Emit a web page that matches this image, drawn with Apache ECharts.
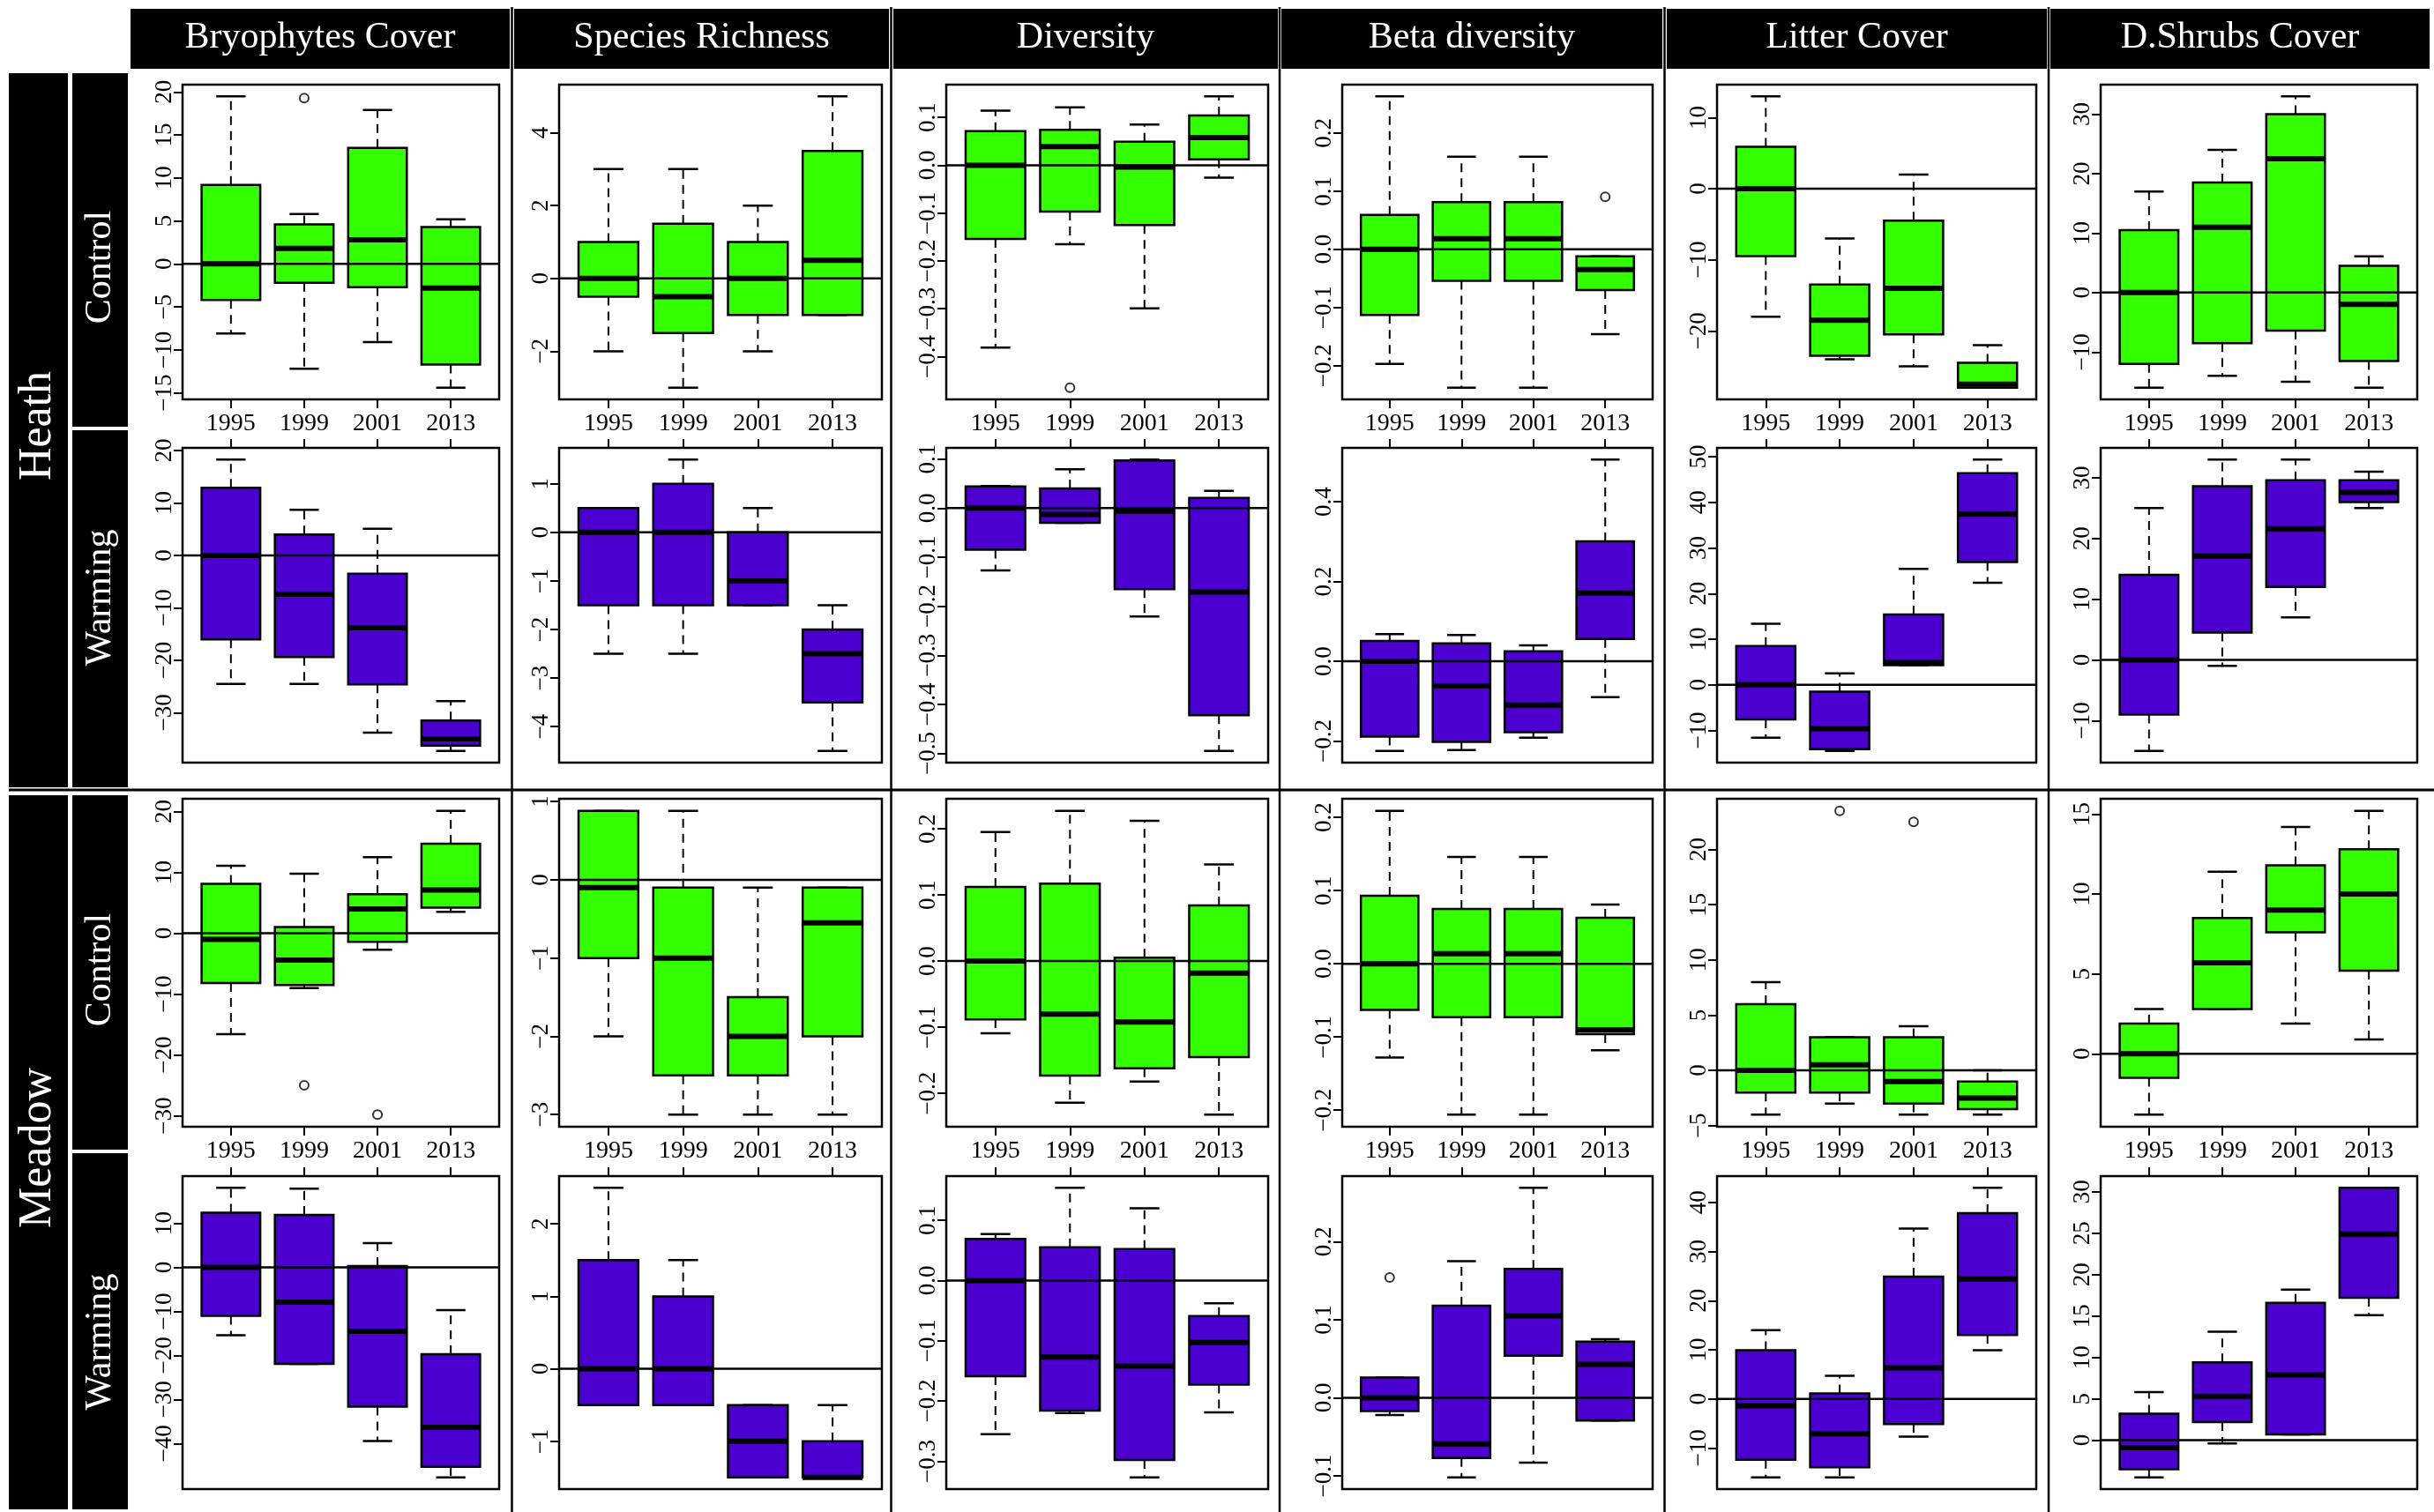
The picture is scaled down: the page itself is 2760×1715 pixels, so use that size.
<!DOCTYPE html>
<html>
<head>
<meta charset="utf-8">
<script src="https://cdn.jsdelivr.net/npm/echarts@6/dist/echarts.min.js"></script>
<style>
  html, body { margin: 0; padding: 0; background: #ffffff; }
  #chart { width: 2760px; height: 1715px; }
</style>
</head>
<body>
<div id="chart"></div>
<script>
// ---- data -------------------------------------------------------------
const years = ['1995', '1999', '2001', '2013'];
const variables = ['Bryophytes Cover', 'Species Richness', 'Diversity', 'Beta diversity', 'Litter Cover', 'D.Shrubs Cover'];
const habitats = ['Heath', 'Meadow'];
const treatments = ['Control', 'Warming'];
const decimals = [0, 0, 1, 1, 0, 0];

// per variable, per year: [lower whisker, Q1, median, Q3, upper whisker]
const heathControl = [
  [[-8.1, -4.2, 0, 9.2, 19.5], [-12.2, -2.2, 1.8, 4.6, 5.8], [-9.1, -2.7, 2.8, 13.5, 17.9], [-14.4, -11.7, -2.8, 4.3, 5.2]],
  [[-2, -0.5, 0, 1, 3], [-3, -1.5, -0.5, 1.5, 3], [-2, -1, 0, 1, 2], [-1, -1, 0.5, 3.5, 5]],
  [[-0.381, -0.154, 0, 0.071, 0.114], [-0.165, -0.097, 0.039, 0.074, 0.121], [-0.299, -0.125, -0.004, 0.049, 0.085], [-0.026, 0.012, 0.058, 0.104, 0.144]],
  [[-0.197, -0.113, 0, 0.059, 0.263], [-0.238, -0.054, 0.018, 0.081, 0.159], [-0.238, -0.054, 0.018, 0.081, 0.159], [-0.146, -0.070, -0.035, -0.012, -0.012]],
  [[-18, -9.5, 0, 5.9, 13], [-24, -23.5, -18.5, -13.5, -7], [-25, -20.5, -14, -4.5, 2], [-28, -28, -27.5, -24.5, -22]],
  [[-16, -12, 0, 10.5, 17], [-14, -8.5, 11, 18.5, 24], [-15, -6.4, 22.5, 30, 33], [-16, -11.5, -2, 4.5, 6.1]]
];
const heathWarming = [
  [[-24.5, -16, 0, 12.9, 18.3], [-24.5, -19.4, -7.4, 4, 8.7], [-33.8, -24.6, -13.8, -3.5, 5.1], [-37.3, -36.3, -35, -31.5, -27.8]],
  [[-2.5, -1.5, 0, 0.5, 0.5], [-2.5, -1.5, 0, 1, 1.5], [-1.5, -1.5, -1, 0, 0.5], [-4.5, -3.5, -2.5, -2, -1.5]],
  [[-0.127, -0.085, 0, 0.044, 0.045], [-0.030, -0.030, -0.013, 0.040, 0.079], [-0.221, -0.165, -0.006, 0.097, 0.099], [-0.495, -0.422, -0.171, 0.021, 0.035]],
  [[-0.225, -0.189, 0, 0.051, 0.068], [-0.223, -0.202, -0.062, 0.045, 0.066], [-0.192, -0.178, -0.110, 0.025, 0.040], [-0.090, 0.056, 0.171, 0.301, 0.506]],
  [[-11.6, -7.6, 0, 8.5, 13.4], [-14.5, -14.1, -9.6, -1.5, 2.5], [4.3, 4.3, 4.9, 15.4, 25.4], [22.4, 26.9, 37.4, 46.4, 49.4]],
  [[-15, -9, 0, 14, 25], [-1, 4.5, 17.1, 28.6, 33], [7, 12, 21.6, 29.6, 33], [25, 26, 27.6, 29.6, 31]]
];
const meadowControl = [
  [[-16.6, -8.2, -1.0, 8.1, 11.1], [-9.0, -8.5, -4.4, 1.0, 9.8], [-2.7, -1.4, 4.0, 6.4, 12.5], [3.5, 4.2, 7.1, 14.7, 20.1]],
  [[-2, -1, -0.1, 0.88, 0.88], [-3, -2.5, -1, -0.1, 0.88], [-3, -2.5, -2, -1.5, -0.1], [-3, -2, -0.55, -0.1, -0.1]],
  [[-0.109, -0.088, 0, 0.112, 0.195], [-0.214, -0.173, -0.080, 0.117, 0.227], [-0.182, -0.162, -0.092, 0.005, 0.212], [-0.232, -0.145, -0.018, 0.084, 0.146]],
  [[-0.128, -0.063, 0, 0.093, 0.209], [-0.206, -0.073, 0.014, 0.075, 0.146], [-0.206, -0.073, 0.014, 0.075, 0.146], [-0.118, -0.096, -0.090, 0.063, 0.081]],
  [[-4, -2, 0, 6, 8], [-3, -2, 0.5, 3, 3], [-4, -3, -1, 3, 4], [-4, -3.5, -2.5, -1, 0]],
  [[-3.8, -1.5, 0, 1.9, 2.8], [2.8, 2.8, 5.7, 8.5, 11.4], [1.9, 7.6, 9.0, 11.8, 14.2], [0.9, 5.2, 10.0, 12.8, 15.2]]
];
const meadowWarming = [
  [[-15.4, -11, 0, 12.4, 18.1], [-21.9, -21.9, -7.9, 11.9, 17.9], [-39.4, -31.6, -14.5, 0.3, 5.5], [-47.7, -45.3, -36.3, -19.7, -9.7]],
  [[-0.5, -0.5, 0, 1.5, 2.5], [-0.5, -0.5, 0, 1, 1.5], [-1.5, -1.5, -1, -0.5, -0.5], [-1.5, -1.5, -1.5, -1, -0.5]],
  [[-0.255, -0.159, 0, 0.069, 0.077], [-0.220, -0.216, -0.127, 0.055, 0.154], [-0.327, -0.298, -0.142, 0.052, 0.120], [-0.219, -0.173, -0.103, -0.059, -0.038]],
  [[-0.022, -0.017, 0, 0.026, 0.026], [-0.102, -0.077, -0.059, 0.118, 0.175], [-0.083, 0.054, 0.105, 0.165, 0.269], [-0.029, -0.029, 0.043, 0.072, 0.075]],
  [[-16, -12.4, -1.4, 9.9, 14], [-16, -13.9, -7.1, 1.1, 4.7], [-7.7, -5.1, 6.3, 24.9, 34.7], [9.9, 13, 24.4, 37.8, 43]],
  [[-4.5, -3.5, -0.9, 3.2, 5.8], [-0.4, 2.2, 5.3, 9.4, 13.1], [0.7, 0.7, 7.9, 16.6, 18.2], [15.1, 17.2, 24.9, 30.5, 30.5]]
];

// outlying points per variable: [year index, value]
const heathControlOutliers = [[[1, 19.3]], [], [[1, -0.465]], [[3, 0.090]], [], []];
const heathWarmingOutliers = [[], [], [], [], [], []];
const meadowControlOutliers = [[[1, -25.0], [2, -29.8]], [], [], [], [[1, 23.5], [2, 22.5]], []];
const meadowWarmingOutliers = [[], [], [], [[0, 0.154]], [], []];

// y-axis tick values per variable
const heathControlTicks = [[-15, -10, -5, 0, 5, 10, 15, 20], [-2, 0, 2, 4], [-0.4, -0.3, -0.2, -0.1, 0, 0.1], [-0.2, -0.1, 0, 0.1, 0.2], [-20, -10, 0, 10], [-10, 0, 10, 20, 30]];
const heathWarmingTicks = [[-30, -20, -10, 0, 10, 20], [-4, -3, -2, -1, 0, 1], [-0.5, -0.4, -0.3, -0.2, -0.1, 0, 0.1], [-0.2, 0, 0.2, 0.4], [-10, 0, 10, 20, 30, 40, 50], [-10, 0, 10, 20, 30]];
const meadowControlTicks = [[-30, -20, -10, 0, 10, 20], [-3, -2, -1, 0, 1], [-0.2, -0.1, 0, 0.1, 0.2], [-0.2, -0.1, 0, 0.1, 0.2], [-5, 0, 5, 10, 15, 20], [0, 5, 10, 15]];
const meadowWarmingTicks = [[-40, -30, -20, -10, 0, 10], [-1, 0, 1, 2], [-0.3, -0.2, -0.1, 0, 0.1], [-0.1, 0, 0.1, 0.2], [-10, 0, 10, 20, 30, 40], [0, 5, 10, 15, 20, 25, 30]];

// ---- layout -----------------------------------------------------------
const GREEN = '#33ff00';
const PURPLE = '#4b00cf';
const SERIF = '"Liberation Serif", "Times New Roman", serif';

const COL_L = [207, 634, 1073, 1522, 1947, 2382];
const COL_R = [566, 1000, 1438, 1874, 2309, 2741];
const ROW_T = [96, 508, 906, 1334];
const ROW_B = [453, 865, 1278, 1689];
const HEAD_L = [148, 583, 1013, 1453, 1890, 2325];
const HEAD_R = [578, 1008, 1449, 1885, 2321, 2755];
const DIV_X = [580.5, 1010.5, 1451, 1887.5, 2323];
const X_MIN = 0.34, X_MAX = 4.66;

const rows = [
  { stats: heathControl, outliers: heathControlOutliers, ticks: heathControlTicks, fill: GREEN },
  { stats: heathWarming, outliers: heathWarmingOutliers, ticks: heathWarmingTicks, fill: PURPLE },
  { stats: meadowControl, outliers: meadowControlOutliers, ticks: meadowControlTicks, fill: GREEN },
  { stats: meadowWarming, outliers: meadowWarmingOutliers, ticks: meadowWarmingTicks, fill: PURPLE }
];

function fmt(v, d) {
  const s = Math.abs(v).toFixed(d);
  return (v < -1e-9 ? '\u2212' : '') + s;
}

// box, dashed whiskers, staples and thick median for one year
function drawBox(api, fill) {
  const x = api.value(0);
  const pLo = api.coord([x, api.value(1)]);
  const pQ1 = api.coord([x, api.value(2)]);
  const pMd = api.coord([x, api.value(3)]);
  const pQ3 = api.coord([x, api.value(4)]);
  const pHi = api.coord([x, api.value(5)]);
  const cx = pMd[0];
  const bw = api.size([0.8, 0])[0];
  const sw = bw / 2;
  const dash = { stroke: '#000', lineWidth: 2, lineDash: [10, 7] };
  const solid = { stroke: '#000', lineWidth: 2.5 };
  return {
    type: 'group',
    children: [
      { type: 'line', shape: { x1: cx, y1: pQ3[1], x2: cx, y2: pHi[1] }, style: dash },
      { type: 'line', shape: { x1: cx, y1: pQ1[1], x2: cx, y2: pLo[1] }, style: dash },
      { type: 'line', shape: { x1: cx - sw / 2, y1: pHi[1], x2: cx + sw / 2, y2: pHi[1] }, style: solid },
      { type: 'line', shape: { x1: cx - sw / 2, y1: pLo[1], x2: cx + sw / 2, y2: pLo[1] }, style: solid },
      { type: 'rect', shape: { x: cx - bw / 2, y: pQ3[1], width: bw, height: pQ1[1] - pQ3[1] },
        style: { fill: fill, stroke: '#000', lineWidth: 2.5 } },
      { type: 'line', shape: { x1: cx - bw / 2, y1: pMd[1], x2: cx + bw / 2, y2: pMd[1] },
        style: { stroke: '#000', lineWidth: 6 } }
    ]
  };
}

const grid = [], xAxis = [], yAxis = [], series = [];

rows.forEach((row, r) => {
  const labelled = r % 2 === 0;
  for (let c = 0; c < 6; c++) {
    const k = grid.length;
    const stats = row.stats[c];
    const outs = row.outliers[c];
    let lo = Infinity, hi = -Infinity;
    stats.forEach(s => { lo = Math.min(lo, s[0]); hi = Math.max(hi, s[4]); });
    outs.forEach(o => { lo = Math.min(lo, o[1]); hi = Math.max(hi, o[1]); });
    const pad = (hi - lo) * 0.04;

    grid.push({
      left: COL_L[c], top: ROW_T[r],
      width: COL_R[c] - COL_L[c], height: ROW_B[r] - ROW_T[r],
      show: true, borderColor: '#000', borderWidth: 2.5, backgroundColor: 'transparent',
      containLabel: false, outerBoundsMode: 'none'
    });
    xAxis.push({
      gridIndex: k, type: 'value', min: X_MIN, max: X_MAX,
      position: labelled ? 'bottom' : 'top',
      axisLine: { show: false, onZero: false }, splitLine: { show: false },
      axisTick: { show: true, customValues: [1, 2, 3, 4], length: 10, lineStyle: { color: '#000', width: 2 } },
      axisLabel: {
        show: labelled, customValues: [1, 2, 3, 4], margin: 14,
        formatter: v => years[Math.round(v) - 1],
        color: '#000', fontFamily: SERIF, fontSize: 28
      }
    });
    const ticks = row.ticks[c];
    const dec = decimals[c];
    yAxis.push({
      gridIndex: k, type: 'value', min: lo - pad, max: hi + pad,
      axisLine: { show: false, onZero: false }, splitLine: { show: false },
      axisTick: { show: true, customValues: ticks, length: 10, lineStyle: { color: '#000', width: 2 } },
      axisLabel: {
        customValues: ticks, rotate: 90, margin: 7,
        formatter: v => fmt(v, dec),
        color: '#000', fontFamily: SERIF, fontSize: 27
      }
    });

    series.push({
      type: 'custom', xAxisIndex: k, yAxisIndex: k, z: 2, silent: true,
      data: stats.map((s, i) => [i + 1, s[0], s[1], s[2], s[3], s[4]]),
      encode: { x: 0, y: [1, 2, 3, 4, 5] },
      renderItem: (params, api) => drawBox(api, row.fill)
    });
    series.push({
      type: 'line', xAxisIndex: k, yAxisIndex: k, z: 5, silent: true,
      data: [[X_MIN, 0], [X_MAX, 0]], symbol: 'none',
      lineStyle: { color: '#000', width: 2.5 }
    });
    if (outs.length) {
      series.push({
        type: 'scatter', xAxisIndex: k, yAxisIndex: k, z: 4, silent: true,
        data: outs.map(o => [o[0] + 1, o[1]]),
        symbol: 'circle', symbolSize: 10,
        itemStyle: { color: 'rgba(0,0,0,0)', borderColor: '#000', borderWidth: 2 }
      });
    }
  }
});

// ---- strips, side labels and separators --------------------------------
const graphic = [];
variables.forEach((name, c) => {
  graphic.push({ type: 'rect', shape: { x: HEAD_L[c], y: 10, width: HEAD_R[c] - HEAD_L[c], height: 68 }, style: { fill: '#000' } });
  graphic.push({ type: 'text', x: (HEAD_L[c] + HEAD_R[c]) / 2, y: 43,
    style: { text: name, fill: '#fff', fontFamily: SERIF, fontSize: 42, align: 'center', verticalAlign: 'middle' } });
});

const habitatBars = [[83, 893], [902, 1712]];
const habitatTextY = [483, 1302];
const treatBars = [[83, 484], [488, 893], [902, 1304], [1308, 1712]];
const treatTextY = [303, 678, 1100, 1522];

habitats.forEach((h, i) => {
  const [y0, y1] = habitatBars[i];
  graphic.push({ type: 'rect', shape: { x: 10, y: y0, width: 67, height: y1 - y0 }, style: { fill: '#000' } });
  graphic.push({ type: 'text', x: 43.5, y: habitatTextY[i], rotation: Math.PI / 2,
    style: { text: h, fill: '#fff', fontFamily: SERIF, fontSize: 52, align: 'center', verticalAlign: 'middle' } });
});
treatBars.forEach((b, i) => {
  graphic.push({ type: 'rect', shape: { x: 82, y: b[0], width: 63, height: b[1] - b[0] }, style: { fill: '#000' } });
  graphic.push({ type: 'text', x: 113.5, y: treatTextY[i], rotation: Math.PI / 2,
    style: { text: treatments[i % 2], fill: '#fff', fontFamily: SERIF, fontSize: 42, align: 'center', verticalAlign: 'middle' } });
});
DIV_X.forEach(x => {
  graphic.push({ type: 'line', shape: { x1: x, y1: 8, x2: x, y2: 1715 }, style: { stroke: '#000', lineWidth: 2.5 } });
});
graphic.push({ type: 'line', shape: { x1: 10, y1: 896, x2: 2760, y2: 896 }, style: { stroke: '#000', lineWidth: 3 } });

const chart = echarts.init(document.getElementById('chart'), null, { renderer: 'canvas' });
chart.setOption({
  animation: false,
  backgroundColor: '#ffffff',
  grid, xAxis, yAxis, series, graphic
});
</script>
</body>
</html>
